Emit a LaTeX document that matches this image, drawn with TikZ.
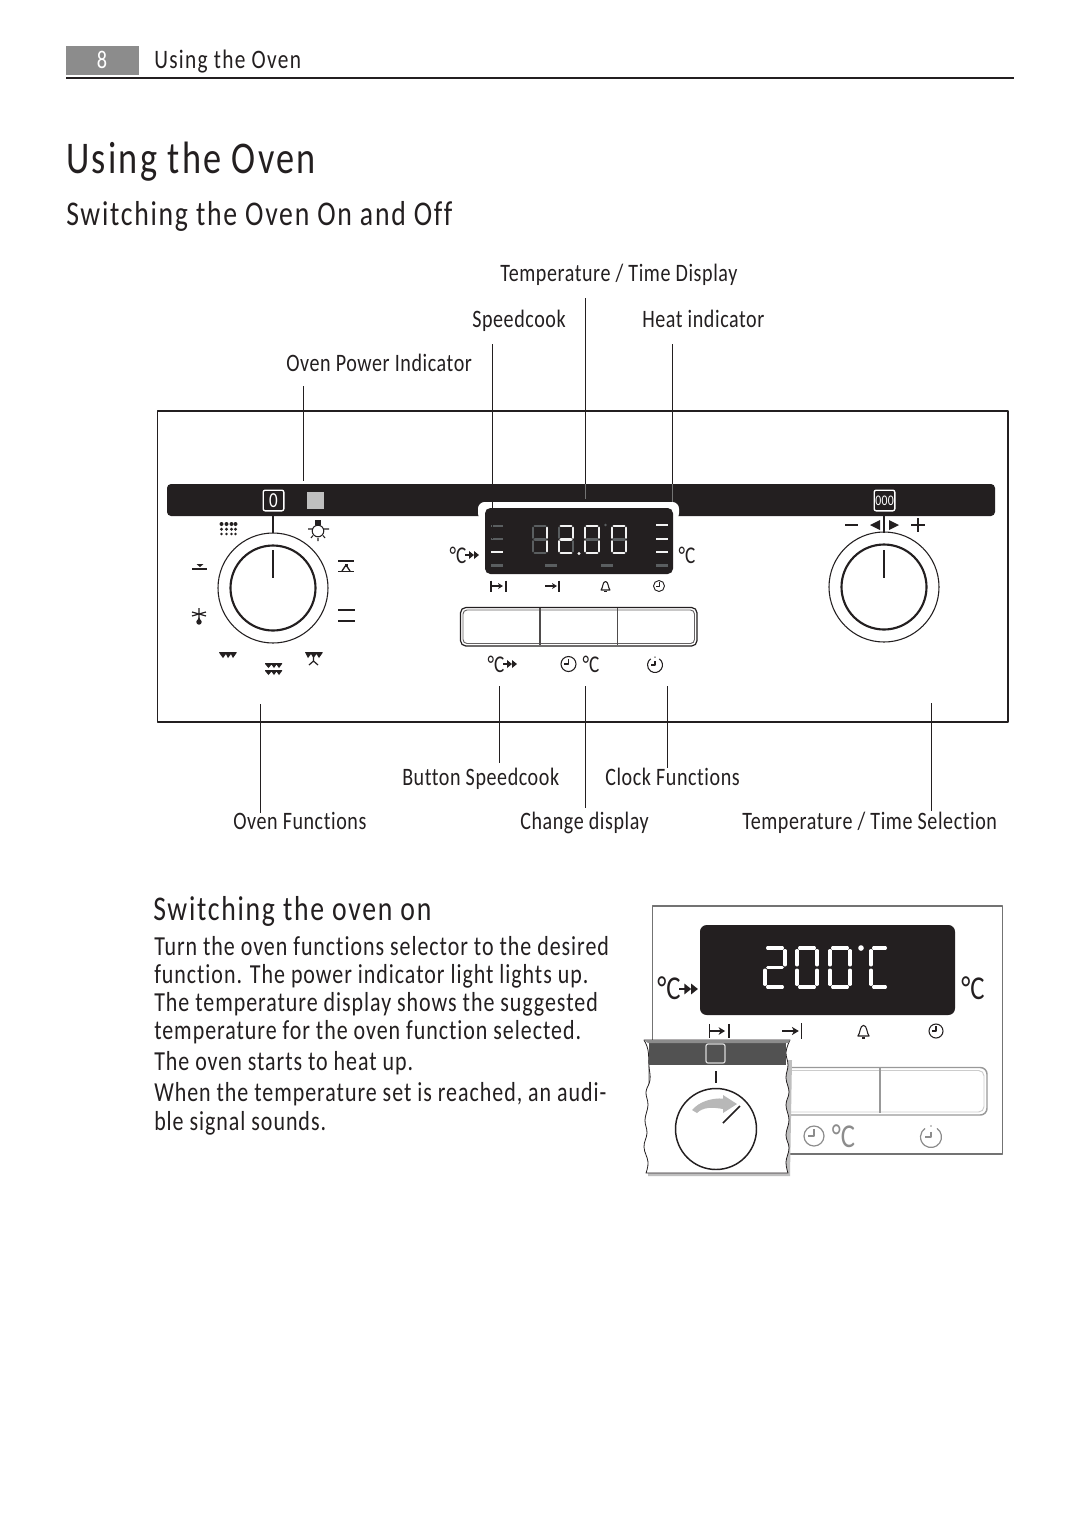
\documentclass[tikz,border=0pt]{standalone}
\usepackage{fontspec}
\setmainfont{Carlito}[FakeStretch=0.8,Ligatures=NoCommon]
\newfontfamily\lblfam{Carlito}[FakeStretch=0.8,LetterSpace=2.3,Ligatures=NoCommon]
\newfontfamily\bodyfam{Carlito}[FakeStretch=0.8,LetterSpace=3.5,Ligatures=NoCommon]
\newfontfamily\headfam{Carlito}[FakeStretch=0.8,LetterSpace=5,Ligatures=NoCommon]
\newfontfamily\degfam{Carlito}[FakeStretch=0.8]
\usetikzlibrary{arrows.meta}
\definecolor{ink}{HTML}{231F20}
\definecolor{seglit}{HTML}{F2F2F2}
\definecolor{segdim}{HTML}{5A5E60}
\tikzset{
  x=0.75pt,y=-0.75pt,
  lbl/.style={anchor=base west,inner sep=0pt,text=ink,font=\lblfam\fontsize{18.8}{20}\selectfont},
  bodytxt/.style={anchor=base west,inner sep=0pt,text=ink,font=\bodyfam\fontsize{20.6}{22}\selectfont},
  headtxt/.style={anchor=base west,inner sep=0pt,text=ink,font=\headfam\fontsize{#1}{#1}\selectfont},
  leader/.style={draw=ink,line width=0.85pt},
  seg/.style={line width=1.9pt,line cap=round,shorten >=1.3pt,shorten <=1.3pt},
  bigseg/.style={white,line width=2.5pt,shorten >=2pt,shorten <=2pt},
  lamp/.style={line width=1.7pt},
  icon/.style={draw=ink,line width=0.8pt,fill=none},
  degt/.style={inner sep=0pt,anchor=center,text=ink},
}
% seven segment digit: x,y,w,h, dim list, lit list, lit colour
\newcommand\sevenseg[7]{%
  \begin{scope}[shift={(#1,#2)}]
    \coordinate (tl) at (0,0); \coordinate (tr) at (#3,0);
    \coordinate (ml) at (0,#4/2); \coordinate (mr) at (#3,#4/2);
    \coordinate (bl) at (0,#4); \coordinate (br) at (#3,#4);
    \foreach \p/\q in {#5} {\draw[seg,segdim] (\p) -- (\q);}
    \foreach \p/\q in {#6} {\draw[seg,#7] (\p) -- (\q);}
  \end{scope}}
\newcommand\litseg[6]{%
  \begin{scope}[shift={(#1,#2)}]
    \coordinate (tl) at (0,0); \coordinate (tr) at (#3,0);
    \coordinate (ml) at (0,#4/2); \coordinate (mr) at (#3,#4/2);
    \coordinate (bl) at (0,#4); \coordinate (br) at (#3,#4);
    \foreach \p/\q in {#5} {\draw[seg,#6] (\p) -- (\q);}
  \end{scope}}
% arrow with double heads, used after the degree sign
\newcommand\dbl[3]{% x,y,scale
  \begin{scope}[shift={(#1,#2)},scale=#3]
    \draw[ink,line width=0.8pt] (0,0) -- (7,0);
    \fill[ink] (4,-4) -- (9,0) -- (4,4) -- cycle;
    \fill[ink] (9,-4) -- (14,0) -- (9,4) -- cycle;
  \end{scope}}
% bar-arrow-bar icons
\newcommand\durationicon[3]{% x,y,scale
  \begin{scope}[shift={(#1,#2)},scale=#3]
    \draw[icon] (0,-5.5) -- (0,5.5) (15,-5.5) -- (15,5.5) (0,0) -- (10,0);
    \fill[ink] (7,-3) -- (12,0) -- (7,3) -- (8.5,0) -- cycle;
  \end{scope}}
\newcommand\finishicon[3]{%
  \begin{scope}[shift={(#1,#2)},scale=#3]
    \draw[icon] (14,-5.5) -- (14,5.5) (0,0) -- (10,0);
    \fill[ink] (7,-3) -- (12,0) -- (7,3) -- (8.5,0) -- cycle;
  \end{scope}}
\newcommand\bellicon[3]{%
  \begin{scope}[shift={(#1,#2)},scale=#3]
    \draw[icon,line width=0.8pt] (-4.5,4) .. controls (-2.5,2) and (-3,-4.5) .. (0,-4.5) .. controls (3,-4.5) and (2.5,2) .. (4.5,4) -- cycle;
    \fill[ink] (-1.3,4.5) rectangle (1.3,6);
  \end{scope}}
\newcommand\clockicon[5]{% x,y,r,lw,col
  \draw[#5,line width=#4] (#1,#2) circle (#3);
  \draw[#5,line width=#4] (#1,#2-0.7*#3) -- (#1,#2) -- (#1-0.6*#3,#2);}
\newcommand\clockinfo[5]{%
  \draw[#5,line width=#4] (#1+0.574*#3,#2-0.819*#3) arc (-55:235:#3);
  \draw[#5,line width=#4] (#1,#2-0.5*#3) -- (#1,#2) -- (#1-0.6*#3,#2);
  \fill[#5] (#1,#2-1.05*#3) circle (0.09*#3);}
\begin{document}
\begin{tikzpicture}[line join=round]
\useasboundingbox (0,0) rectangle (1080,1529);
\fill[white] (0,0) rectangle (1080,1529);
% running head
\fill[gray!90] (66,46) rectangle (139,75);
\node[inner sep=0pt,text=white,font=\lblfam\fontsize{19}{20}\selectfont] (pagenum) at (102,60) {8};
\node[headtxt=20] (runhead) at (154,68) {Using the Oven};
\coordinate (ruleL) at (66,78); \coordinate (ruleR) at (1014,78);
\draw[ink,line width=0.9pt] (ruleL) -- (ruleR);
% titles
\node[headtxt=34] (title) at (66,173) {Using the Oven};
\node[headtxt=26] (subtitle) at (66,225) {Switching the Oven On and Off};
% upper labels
\node[lbl] (ltemp) at (500,281) {Temperature / Time Display};
\node[lbl] (lspeed) at (472,327) {Speedcook};
\node[lbl] (lheat) at (642,327) {Heat indicator};
\node[lbl] (lpower) at (286,371) {Oven Power Indicator};
% panel
\draw[ink,line width=0.8pt] (157.5,411) rectangle (1008,722);
\fill[ink,rounded corners=3pt] (167,484) rectangle (995,516);
\fill[white,rounded corners=5pt] (478,520) -- (478,502) -- (679,502) -- (679,520) -- cycle;
\fill[ink,rounded corners=4pt] (485,508) rectangle (673,574);
% left button, lamp
\node[draw=white,line width=1pt,rounded corners=1.5pt,minimum size=15.5pt,inner sep=0pt,text=white,font=\lblfam\fontsize{16}{17}\selectfont] (onbtn) at (273.5,500.5) {0};
\fill[black!25] (307,491.5) rectangle (324,509);
% right button
\node[draw=white,line width=1pt,rounded corners=1.5pt,minimum size=15.5pt,inner sep=0pt,text=white,font=\lblfam\fontsize{11}{12}\selectfont] (tbtn) at (884.5,500.5) {000};
% left dial
\coordinate (dialL) at (273,588);
\draw[ink,line width=1.6pt] (273,516) -- (273,533);
\draw[ink,line width=0.8pt] (dialL) circle (55);
\draw[ink,line width=1.6pt] (dialL) circle (42.5);
\draw[ink,line width=1.6pt] (273,550) -- (273,578);
% right dial
\coordinate (dialR) at (884,587);
\draw[ink,line width=1.6pt] (884,516) -- (884,533);
\draw[ink,line width=0.8pt] (dialR) circle (55);
\draw[ink,line width=1.6pt] (dialR) circle (42.5);
\draw[ink,line width=1.6pt] (884,550) -- (884,578);
% right dial marks
\draw[ink,line width=1pt] (845,525) -- (858,525) (911,525) -- (925,525) (918,518) -- (918,532);
\fill[ink] (880,520) -- (880,530) -- (870,525) -- cycle;
\fill[ink] (889,520) -- (889,530) -- (899,525) -- cycle;
% oven function symbols
\foreach \xx in {221.5,226.5,231.5,235.5} {\fill[ink] (\xx,524) circle (2);}
\foreach \xx in {221.5,226.5,231.5,235.5} {\fill[ink] (\xx,529.3) circle (1.6);}
\foreach \xx in {221.5,226.5,231.5,235.5} {\fill[ink] (\xx,534) circle (1.4);}
% lamp
\draw[ink,line width=0.8pt] (318,531) circle (5.8);
\fill[ink] (315,519.5) rectangle (321,525);
\draw[ink,line width=0.8pt] (308,529) -- (312,529) (324,529) -- (329,529) (311,538) -- (313,535.5) (325,538) -- (323,535.5) (318,538) -- (318,541);
% left grill
\draw[ink,line width=1pt] (192,569) -- (207,569);
\fill[ink] (196.5,564) -- (203.5,564) -- (200,567) -- cycle;
% right: top + fan
\draw[ink,line width=1pt] (338,561) -- (354,561) (338,571.5) -- (354,571.5);
\draw[ink,line width=1pt] (342,571) -- (346,565) -- (350,571);
\fill[ink] (344.5,564) rectangle (347.5,567);
% fan with drop
\draw[ink,line width=0.9pt] (192,612) -- (206,616) (206,612) -- (192,616) (199,608) -- (199,620);
\fill[ink] (199,617) -- (196.5,622) -- (201.5,622) -- cycle;
\fill[ink] (199,622) circle (2.7);
% two bars
\draw[ink,line width=1pt] (338,610) -- (355,610) (338,621) -- (355,621);
% bottom-left heat
\fill[ink] (219,652) -- (236.5,652) -- (236.5,653) -- (233,658) -- (231,654) -- (228,658) -- (226,654) -- (223,658) -- (220,654) -- cycle;
% bottom heat
\fill[ink] (265,663) -- (282,663) -- (282,664) -- (279,668) -- (276.5,664.5) -- (274,668) -- (271.5,664.5) -- (268.5,668) -- (265.5,664.5) -- cycle;
\fill[ink] (265,670) -- (282,670) -- (282,671) -- (279,675) -- (276.5,671.5) -- (274,675) -- (271.5,671.5) -- (268.5,675) -- (265.5,671.5) -- cycle;
% bottom-right heat + fan
\fill[ink] (305,652) -- (322.5,652) -- (322.5,653) -- (319,658) -- (316.5,654) -- (313.5,658) -- (311,654) -- (308,658) -- cycle;
\draw[ink,line width=0.9pt] (313.5,656) -- (313.5,661) -- (309,665) (313.5,661) -- (318,665);
% display lamps
\foreach \yy in {526,539} {\draw[segdim,lamp] (491,\yy) -- (503,\yy);}
\draw[seglit,lamp] (491,552) -- (503,552);
\draw[segdim,lamp] (491,565.5) -- (503,565.5) (545,565.5) -- (557,565.5) (601,565.5) -- (613,565.5) (656,565.5) -- (668,565.5);
\foreach \yy in {525,539,552} {\draw[seglit,lamp] (656,\yy) -- (668,\yy);}
% digits 12.00
\sevenseg{533}{526}{14}{27}{tl/tr,tl/ml,ml/bl,bl/br,ml/mr}{tr/mr,mr/br}{seglit}
\sevenseg{559}{526}{14}{27}{tl/ml,mr/br}{tl/tr,tr/mr,ml/mr,ml/bl,bl/br}{seglit}
\sevenseg{585}{526}{14}{27}{ml/mr}{tl/tr,tr/mr,mr/br,bl/br,ml/bl,tl/ml}{seglit}
\sevenseg{612}{526}{14}{27}{ml/mr}{tl/tr,tr/mr,mr/br,bl/br,ml/bl,tl/ml}{seglit}
\fill[seglit] (579,553.5) circle (1.6);
\fill[segdim] (605.5,525) circle (1.3);
% degree symbols
\node[degt,font=\degfam\fontsize{18}{19}\selectfont] (dega) at (458,555) {°C};
\dbl{465}{555}{1}
\node[degt,font=\degfam\fontsize{18}{19}\selectfont] (degb) at (687,555) {°C};
\durationicon{491}{586}{1}
\finishicon{545}{586}{1}
\bellicon{605.5}{586}{1}
\clockicon{659}{586}{5.5}{0.7pt}{ink}
% buttons
\draw[ink,line width=0.9pt,rounded corners=4pt] (460.5,607.5) rectangle (697,646);
\draw[ink!70,line width=0.7pt,rounded corners=3pt] (463,610) rectangle (694.5,643.5);
\draw[ink!80,line width=1pt] (540,608) -- (540,645) (617.5,608) -- (617.5,645);
\node[degt,font=\degfam\fontsize{18}{19}\selectfont] (degc) at (496,664) {°C};
\dbl{503}{664}{1}
\clockicon{568.5}{664}{7.5}{0.8pt}{ink}
\node[degt,font=\degfam\fontsize{18}{19}\selectfont] (degd) at (591,664) {°C};
\clockinfo{655}{665}{7.5}{0.8pt}{ink}
% leaders, top
\coordinate (a1) at (303.5,386); \coordinate (a2) at (303.5,481);
\coordinate (b1) at (492.5,344); \coordinate (b2) at (492.5,539);
\coordinate (c1) at (585.5,298); \coordinate (c2) at (585.5,499);
\coordinate (d1) at (672.5,344); \coordinate (d2) at (672.5,502);
\coordinate (c0) at (585.5,484); \coordinate (d0) at (672.5,484);
\draw[leader] (a1) -- (a2);
\draw[leader] (b1) -- (b2);
\draw[leader] (c1) -- (c0);
\draw[leader] (d1) -- (d0);
\draw[leader,draw=black!55] (c0) -- (c2);
\draw[leader,draw=black!55] (d0) -- (d2);
% lower labels
\node[lbl] (lbtn) at (402,785) {Button Speedcook};
\node[lbl] (lclock) at (605,785) {Clock Functions};
\node[lbl] (lfunc) at (233,829) {Oven Functions};
\node[lbl] (lchange) at (520,829) {Change display};
\node[lbl] (lsel) at (742,829) {Temperature / Time Selection};
\coordinate (e1) at (260.5,704); \coordinate (e2) at (260.5,813);
\coordinate (f1) at (499.5,686); \coordinate (f2) at (499.5,763);
\coordinate (g1) at (585.5,686); \coordinate (g2) at (585.5,808);
\coordinate (h1) at (667.5,686); \coordinate (h2) at (667.5,768);
\coordinate (i1) at (931.5,703); \coordinate (i2) at (931.5,811);
\draw[leader] (e1) -- (e2);
\draw[leader] (f1) -- (f2);
\draw[leader] (g1) -- (g2);
\draw[leader] (h1) -- (h2);
\draw[leader] (i1) -- (i2);
% body text
\node[headtxt=26] (head2) at (153,920) {Switching the oven on};
\node[bodytxt] (t1) at (154,955) {Turn the oven functions selector to the desired};
\node[bodytxt] (t2) at (154,983) {function. The power indicator light lights up.};
\node[bodytxt] (t3) at (154,1011) {The temperature display shows the suggested};
\node[bodytxt] (t4) at (154,1039) {temperature for the oven function selected.};
\node[bodytxt] (t5) at (154,1070) {The oven starts to heat up.};
\node[bodytxt] (t6) at (154,1101) {When the temperature set is reached, an audi-};
\node[bodytxt] (t7) at (154,1130) {ble signal sounds.};
% second panel
\draw[black!55,line width=0.8pt] (652.5,906) rectangle (1002.7,1154);
\fill[ink,rounded corners=5pt] (700,925) rectangle (955,1015);
\litseg{765}{948}{20}{39}{tl/tr,tr/mr,ml/mr,ml/bl,bl/br}{bigseg}
\litseg{797}{948}{20}{39}{tl/tr,tr/mr,mr/br,bl/br,ml/bl,tl/ml}{bigseg}
\litseg{830}{948}{20}{39}{tl/tr,tr/mr,mr/br,bl/br,ml/bl,tl/ml}{bigseg}
\litseg{871}{948}{17}{39}{tl/tr,tl/ml,ml/bl,bl/br}{bigseg}
\fill[white] (861,948) circle (2.8);
\node[degt,font=\degfam\fontsize{25}{26}\selectfont] (dege) at (669,988) {°C};
\dbl{679}{989}{1.35}
\node[degt,font=\degfam\fontsize{25}{26}\selectfont] (degf) at (973,988) {°C};
\durationicon{709.5}{1031}{1.3}
\finishicon{782}{1031}{1.4}
\bellicon{863.5}{1031}{1.25}
\clockicon{936}{1031}{7}{0.8pt}{ink}
% second panel buttons
\draw[black!40,line width=1.1pt,rounded corners=5pt] (780,1067.5) rectangle (987,1115);
\draw[black!20,line width=0.7pt,rounded corners=4pt] (780,1070.5) rectangle (984,1112);
\draw[black!40,line width=1pt] (880,1068) -- (880,1113);
\clockicon{814}{1136}{10}{0.9pt}{black!45}
\node[degt,text=black!45,font=\degfam\fontsize{25}{26}\selectfont] (degg) at (843.5,1136) {°C};
\clockinfo{931}{1137}{10.5}{0.9pt}{black!45}
% torn piece
\fill[black!25] (648,1060) -- (792,1060) -- (790,1176) -- (648,1176) -- cycle;
\path[fill=white,draw=ink,line width=0.6pt] plot[smooth,tension=0.7] coordinates {(644,1040) (648,1050) (649,1066) (650,1080) (646,1092) (648,1105) (645,1120) (647,1133) (644,1147) (648,1162) (646,1173)}
  -- (788,1173) -- plot[smooth,tension=0.7] coordinates {(788,1173) (786,1162) (789,1148) (786,1135) (789,1120) (786,1105) (789,1092) (786,1078) (788,1065) (786,1052) (790,1040)} -- cycle;
\fill[black!68] (649,1041) -- (786,1041) -- (786,1065) -- (649,1065) -- cycle;
\fill[black!45] (644,1040) -- (790,1040) -- (788,1043) -- (648,1043) -- cycle;
\draw[white!85!black,line width=0.9pt,rounded corners=1.5pt] (706,1044) rectangle (725,1063);
\draw[ink,line width=1.9pt] (716,1071) -- (716,1083);
\coordinate (dialB) at (716,1129);
\draw[ink,line width=1.1pt] (dialB) circle (40.5);
\fill[black!28] (692,1110) .. controls (700,1101) and (712,1098) .. (723,1098.5) -- (723,1095) -- (737,1104) -- (723,1113) -- (723,1109) .. controls (712,1107) and (703,1107) .. (697,1113) -- cycle;
\draw[ink,line width=1.1pt] (723,1123) -- (740,1106);
\end{tikzpicture}
\end{document}
